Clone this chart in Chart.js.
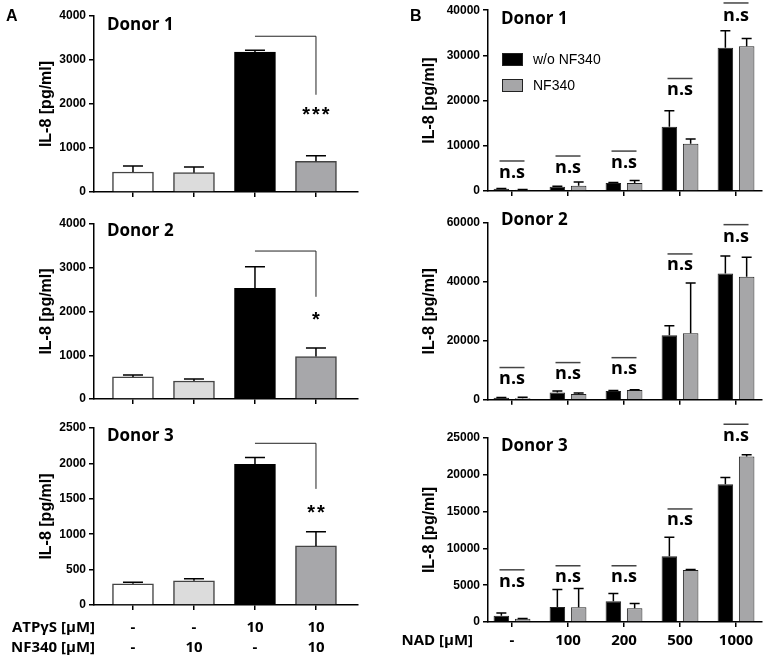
<!DOCTYPE html>
<html>
<head>
<meta charset="utf-8">
<script src="https://cdn.jsdelivr.net/npm/chart.js@4.4.0/dist/chart.umd.min.js"></script>
<style>
body { margin: 0; background: #fff; }
#wrap { position: relative; width: 765px; height: 660px; }
canvas { position: absolute; }
</style>
</head>
<body>
<div id="wrap">
  <canvas id="a1" width="370" height="205" style="left:0;top:0"></canvas>
  <canvas id="a2" width="370" height="205" style="left:0;top:205px"></canvas>
  <canvas id="a3" width="370" height="250" style="left:0;top:410px"></canvas>
  <canvas id="b1" width="385" height="205" style="left:380px;top:0"></canvas>
  <canvas id="b2" width="385" height="205" style="left:380px;top:205px"></canvas>
  <canvas id="b3" width="385" height="250" style="left:380px;top:410px"></canvas>
</div>
<script>
// Panel A: ATPγS / NF340
const aCats = [['-', '-'], ['-', '10'], ['10', '-'], ['10', '10']];
const aColors = ['#ffffff', '#dcdcdc', '#000000', '#a7a7aa'];
const aDonor1 = [455, 440, 3180, 697];
const aDonor1Err = [135, 130, 40, 129];
const aDonor2 = [504, 412, 2527, 970];
const aDonor2Err = [46, 46, 496, 198];
const aDonor3 = [299, 341, 1986, 834];
const aDonor3Err = [23, 29, 99, 199];
const aStars = ['***', '*', '**'];
const aBracketTop = [3540, 3382, 2284];
const aBracketEnd = [2210, 2336, 1640];
const aStarY = [1870, 1916, 1370];
const aYMax = [4000, 4000, 2500];
const aYStep = [1000, 1000, 500];

// Panel B: NAD with / without NF340
const bCats = ['-', '100', '200', '500', '1000'];
const bSeries = ['w/o NF340', 'NF340'];
const bDonor1Wo = [510, 950, 1750, 14230, 31680];
const bDonor1WoErr = [60, 80, 150, 3510, 3790];
const bDonor1Nf = [290, 1170, 1750, 10440, 32040];
const bDonor1NfErr = [60, 800, 590, 1090, 1680];
const bDonor2Wo = [670, 2460, 3020, 21900, 42900];
const bDonor2WoErr = [100, 560, 100, 3240, 5930];
const bDonor2Nf = [560, 2010, 3350, 22570, 41790];
const bDonor2NfErr = [330, 340, 100, 17090, 6590];
const bDonor3Wo = [860, 2050, 2820, 8950, 18730];
const bDonor3WoErr = [370, 2360, 1040, 2550, 910];
const bDonor3Nf = [450, 2000, 1860, 7050, 22500];
const bDonor3NfErr = [40, 2550, 640, 100, 230];
const bNsLine1 = [6640, 7740, 8830, 24890, 41600];
const bNsText1 = [4090, 5110, 6280, 22340, 38760];
const bNsLine2 = [10950, 12630, 14300, 49500, 59440];
const bNsText2 = [7040, 8600, 10390, 45810, 55310];
const bNsLine3 = [7090, 7640, 7640, 15360, 26870];
const bNsText3 = [5450, 6090, 6090, 13860, 25240];
const bYMax = [40000, 60000, 25000];
const bYStep = [10000, 20000, 5000];

const ARIAL = '"Liberation Sans", Arial, sans-serif';
const CALIBRI = '"Open Sans", sans-serif';

// error bars (upper only)
const errorBars = {
  id: 'errorBars',
  afterDatasetsDraw(chart, args, opts) {
    const ctx = chart.ctx;
    const y = chart.scales.y;
    ctx.save();
    ctx.strokeStyle = '#000';
    ctx.lineWidth = 1.5;
    chart.data.datasets.forEach((ds, di) => {
      chart.getDatasetMeta(di).data.forEach((bar, i) => {
        const err = ds.errors[i];
        if (!err) return;
        const top = y.getPixelForValue(ds.data[i].y + err);
        ctx.beginPath();
        ctx.moveTo(bar.x, bar.y);
        ctx.lineTo(bar.x, top);
        ctx.moveTo(bar.x - opts.cap / 2, top);
        ctx.lineTo(bar.x + opts.cap / 2, top);
        ctx.stroke();
      });
    });
    ctx.restore();
  }
};

// titles, significance marks, legend, row labels
const marks = {
  id: 'marks',
  afterDraw(chart, args, o) {
    const { ctx, chartArea } = chart;
    const x = chart.scales.x, y = chart.scales.y;
    ctx.save();
    ctx.fillStyle = '#000';
    ctx.textBaseline = 'alphabetic';
    if (o.letter) {
      ctx.font = 'bold 16px ' + ARIAL;
      ctx.textAlign = 'left';
      ctx.fillText(o.letter, o.letterX, 21);
    }
    ctx.font = 'bold 17px ' + CALIBRI;
    ctx.textAlign = 'left';
    ctx.fillText(o.title, chartArea.left + 13, chartArea.top + o.titleDy + 6);

    if (o.bracket) {
      const b = o.bracket;
      const x1 = x.getPixelForValue(2), x2 = x.getPixelForValue(3);
      ctx.strokeStyle = '#222';
      ctx.lineWidth = 1;
      ctx.beginPath();
      ctx.moveTo(x1, y.getPixelForValue(b.top));
      ctx.lineTo(x2, y.getPixelForValue(b.top));
      ctx.lineTo(x2, y.getPixelForValue(b.end));
      ctx.stroke();
      ctx.font = 'bold 20px ' + ARIAL;
      ctx.textAlign = 'center';
      ctx.letterSpacing = '2px';
      ctx.fillText(b.stars, x2 + 1, y.getPixelForValue(b.starY) + 11);
      ctx.letterSpacing = '0px';
    }

    if (o.ns) {
      ctx.strokeStyle = '#444';
      ctx.lineWidth = 1.5;
      ctx.font = 'bold 18px ' + CALIBRI;
      ctx.textAlign = 'center';
      o.ns.line.forEach((v, i) => {
        const cx = x.getPixelForValue(i);
        const ly = y.getPixelForValue(v);
        ctx.beginPath();
        ctx.moveTo(cx - 12.5, ly);
        ctx.lineTo(cx + 12.5, ly);
        ctx.stroke();
        ctx.fillText('n.s', cx, y.getPixelForValue(o.ns.text[i]) + 5);
      });
    }

    if (o.legend) {
      ctx.font = '14px ' + ARIAL;
      ctx.textAlign = 'left';
      ctx.textBaseline = 'middle';
      chart.data.datasets.forEach((ds, i) => {
        const top = 53 + i * 26;
        ctx.fillStyle = ds.backgroundColor;
        ctx.fillRect(122, top, 21, 13);
        ctx.strokeStyle = '#222';
        ctx.lineWidth = 1;
        ctx.strokeRect(122.5, top + 0.5, 20, 12);
        ctx.fillStyle = '#000';
        ctx.fillText(ds.label, 153, top + 7);
      });
    }

    if (o.rows) {
      ctx.font = 'bold 15px ' + CALIBRI;
      ctx.textAlign = 'right';
      ctx.textBaseline = 'middle';
      o.rows.forEach((t, i) => {
        ctx.fillText(t, o.rowsRight, chartArea.bottom + o.rowsDy + i * 20);
      });
    }
    ctx.restore();
  }
};

function toPoints(vals) {
  return vals.map((v, i) => ({ x: i, y: v }));
}

function makePanel(id, cfg) {
  return new Chart(document.getElementById(id), {
    type: 'bar',
    data: { datasets: cfg.datasets },
    options: {
      responsive: false,
      animation: false,
      devicePixelRatio: 1,
      layout: { padding: { left: cfg.padLeft, top: cfg.padTop, right: cfg.padRight, bottom: 0 } },
      plugins: {
        legend: { display: false },
        tooltip: { enabled: false },
        errorBars: { cap: cfg.cap },
        marks: cfg.marks
      },
      scales: {
        x: {
          type: 'linear',
          min: cfg.xMin,
          max: cfg.xMax,
          offset: false,
          afterFit: s => { s.height = cfg.xHeight; },
          afterBuildTicks: s => { s.ticks = cfg.cats.map((c, i) => ({ value: i })); },
          grid: { offset: false, drawOnChartArea: false, tickLength: 5, color: '#000', lineWidth: 1.5 },
          border: { color: '#000', width: 1.5 },
          ticks: {
            display: cfg.showLabels,
            autoSkip: false,
            maxRotation: 0,
            padding: cfg.labelPad,
            color: '#000',
            font: { family: CALIBRI, size: 15, weight: 'bold', lineHeight: 1.3334 },
            callback: (v, i) => cfg.cats[i]
          }
        },
        y: {
          min: 0,
          max: cfg.yMax,
          afterFit: s => { s.width = cfg.yWidth; },
          grid: { drawOnChartArea: false, tickLength: 5, color: '#000', lineWidth: 1.5 },
          border: { color: '#000', width: 1.5 },
          ticks: {
            stepSize: cfg.yStep,
            padding: 3,
            color: '#000',
            font: { family: ARIAL, size: 12, weight: 'bold' },
            callback: v => String(v)
          },
          title: {
            display: true,
            text: 'IL-8 [pg/ml]',
            color: '#000',
            padding: { top: 4, bottom: 4 },
            font: { family: ARIAL, size: 16, weight: 'bold' }
          }
        }
      }
    },
    plugins: [errorBars, marks]
  });
}

// Panel A charts
const aValues = [aDonor1, aDonor2, aDonor3];
const aErrors = [aDonor1Err, aDonor2Err, aDonor3Err];
const aLayout = [
  { id: 'a1', padTop: 16, xHeight: 13, titleDy: 7.5 },
  { id: 'a2', padTop: 19, xHeight: 11, titleDy: 5.5 },
  { id: 'a3', padTop: 18, xHeight: 55, titleDy: 7 }
];
aLayout.forEach((p, k) => {
  makePanel(p.id, {
    datasets: [{
      data: toPoints(aValues[k]),
      errors: aErrors[k],
      backgroundColor: aColors,
      borderColor: ['#444', '#444', '#000', '#444'],
      borderWidth: 1.5,
      barThickness: 41
    }],
    cats: aCats,
    showLabels: k === 2,
    labelPad: 8,
    xMin: -0.639, xMax: 3.689,
    yMax: aYMax[k], yStep: aYStep[k],
    padLeft: 33, padTop: p.padTop, padRight: 12,
    yWidth: 61, xHeight: p.xHeight,
    cap: 20,
    marks: {
      title: 'Donor ' + (k + 1),
      titleDy: p.titleDy,
      letter: k === 0 ? 'A' : null, letterX: 6,
      bracket: { top: aBracketTop[k], end: aBracketEnd[k], starY: aStarY[k], stars: aStars[k] },
      rows: k === 2 ? ['ATPγS [µM]', 'NF340 [µM]'] : null,
      rowsRight: 95, rowsDy: 23
    }
  });
});

// Panel B charts
const bWo = [bDonor1Wo, bDonor2Wo, bDonor3Wo];
const bWoErr = [bDonor1WoErr, bDonor2WoErr, bDonor3WoErr];
const bNf = [bDonor1Nf, bDonor2Nf, bDonor3Nf];
const bNfErr = [bDonor1NfErr, bDonor2NfErr, bDonor3NfErr];
const bNsLine = [bNsLine1, bNsLine2, bNsLine3];
const bNsText = [bNsText1, bNsText2, bNsText3];
const bLayout = [
  { id: 'b1', padTop: 8, xHeight: 14, titleDy: 8 },
  { id: 'b2', padTop: 18, xHeight: 7, titleDy: -4 },
  { id: 'b3', padTop: 28, xHeight: 38, titleDy: 7 }
];
bLayout.forEach((p, k) => {
  const common = { borderColor: '#222', borderWidth: 1, categoryPercentage: 0.76, barPercentage: 0.73 };
  makePanel(p.id, {
    datasets: [
      Object.assign({ label: bSeries[0], data: toPoints(bWo[k]), errors: bWoErr[k], backgroundColor: '#000000' }, common),
      Object.assign({ label: bSeries[1], data: toPoints(bNf[k]), errors: bNfErr[k], backgroundColor: '#a6a6a8' }, common)
    ],
    cats: bCats,
    showLabels: k === 2,
    labelPad: 4,
    xMin: -0.4286, xMax: 4.464,
    yMax: bYMax[k], yStep: bYStep[k],
    padLeft: 36, padTop: p.padTop, padRight: 3,
    yWidth: 72, xHeight: p.xHeight,
    cap: 10,
    marks: {
      title: 'Donor ' + (k + 1),
      titleDy: p.titleDy,
      letter: k === 0 ? 'B' : null, letterX: 30,
      ns: { line: bNsLine[k], text: bNsText[k] },
      legend: k === 0,
      rows: k === 2 ? ['NAD [µM]'] : null,
      rowsRight: 93, rowsDy: 19
    }
  });
});
</script>
</body>
</html>
